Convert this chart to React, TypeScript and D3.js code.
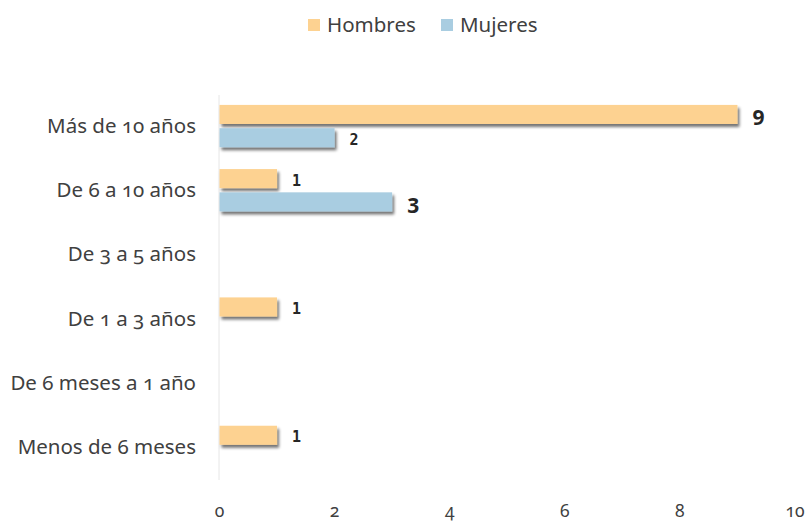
import React from "react";
import * as d3 from "d3";

const categories = [
  "Más de 10 años",
  "De 6 a 10 años",
  "De 3 a 5 años",
  "De 1 a 3 años",
  "De 6 meses a 1 año",
  "Menos de 6 meses",
];
const hombres = [9, 1, 0, 1, 0, 1];
const mujeres = [2, 3, 0, 0, 0, 0];
const seriesNames = ["Hombres", "Mujeres"];
const xTicks = [0, 2, 4, 6, 8, 10];

const colors = ["#FDD291", "#A9CDE1"];
const W = 807, H = 522;

export default function App() {
  const x = d3.scaleLinear().domain([0, 10]).range([219.5, 795]);
  const y = d3.scaleBand().domain(categories).range([94, 479]).paddingInner(0.34).paddingOuter(0.17);
  const sub = d3.scaleBand().domain(seriesNames).range([0, y.bandwidth()]).paddingInner(0.18);
  const series = [hombres, mujeres];
  const font = "'Noto Sans', 'Open Sans', sans-serif";
  const onum: React.CSSProperties = { fontVariantNumeric: "oldstyle-nums", fontFeatureSettings: "'onum' 1" };
  return (
    <div style={{ position: "fixed", left: 0, top: 0, width: W, height: H, overflow: "hidden" }}>
      <svg width={W} height={H} style={{ display: "block", background: "#fff" }}>
        <defs>
          <filter id="sh" x="-5%" y="-30%" width="115%" height="180%">
            <feGaussianBlur in="SourceAlpha" stdDeviation="1.8" />
            <feOffset dx="1.5" dy="2.5" result="b" />
            <feComponentTransfer><feFuncA type="linear" slope="0.55" /></feComponentTransfer>
            <feMerge><feMergeNode /><feMergeNode in="SourceGraphic" /></feMerge>
          </filter>
        </defs>
        {/* legend */}
        {seriesNames.map((s, i) => {
          const lx = [308, 441][i];
          return (
            <g key={s}>
              <rect x={lx} y={19} width={12} height={12} fill={colors[i]} />
              <text x={lx + 19} y={32} fontFamily={font} fontSize={20.5} fill="#404040">{s}</text>
            </g>
          );
        })}
        {/* axis line */}
        <line x1={x(0) - 0.5} x2={x(0) - 0.5} y1={95} y2={480} stroke="#e6e6e6" strokeWidth={1} />
        {/* category labels */}
        {categories.map((c) => (
          <text key={c} x={196} y={(y(c) as number) + y.bandwidth() / 2 + 7} textAnchor="end"
            fontFamily={font} fontSize={20.5} fill="#404040" style={onum}>{c}</text>
        ))}
        {/* bars */}
        {series.map((vals, si) => (
          <g key={si}>
            {categories.map((c, ci) => {
              const v = vals[ci];
              if (!v) return null;
              const by = (y(c) as number) + (sub(seriesNames[si]) as number);
              const bh = sub.bandwidth();
              const big = v >= 3;
              return (
                <g key={c}>
                  <rect x={x(0)} y={by} width={x(v) - x(0)} height={bh} fill={colors[si]} filter="url(#sh)" />
                  {big ? (
                    <text x={x(v) + 15} y={by + bh / 2 + 11} fontFamily={font} fontWeight={700}
                      fontSize={21} fill="#262626">{v}</text>
                  ) : (
                    <text x={x(v) + 15} y={by + bh / 2 + 7} fontFamily="'DejaVu Sans Mono', monospace" fontWeight={700}
                      fontSize={15} fill="#262626">{v}</text>
                  )}
                </g>
              );
            })}
          </g>
        ))}
        {/* x ticks */}
        {xTicks.map((t) => (
          <text key={t} x={x(t)} y={517} textAnchor="middle" fontFamily={font} fontSize={17.5} fill="#404040" style={onum}>{t}</text>
        ))}
      </svg>
    </div>
  );
}
